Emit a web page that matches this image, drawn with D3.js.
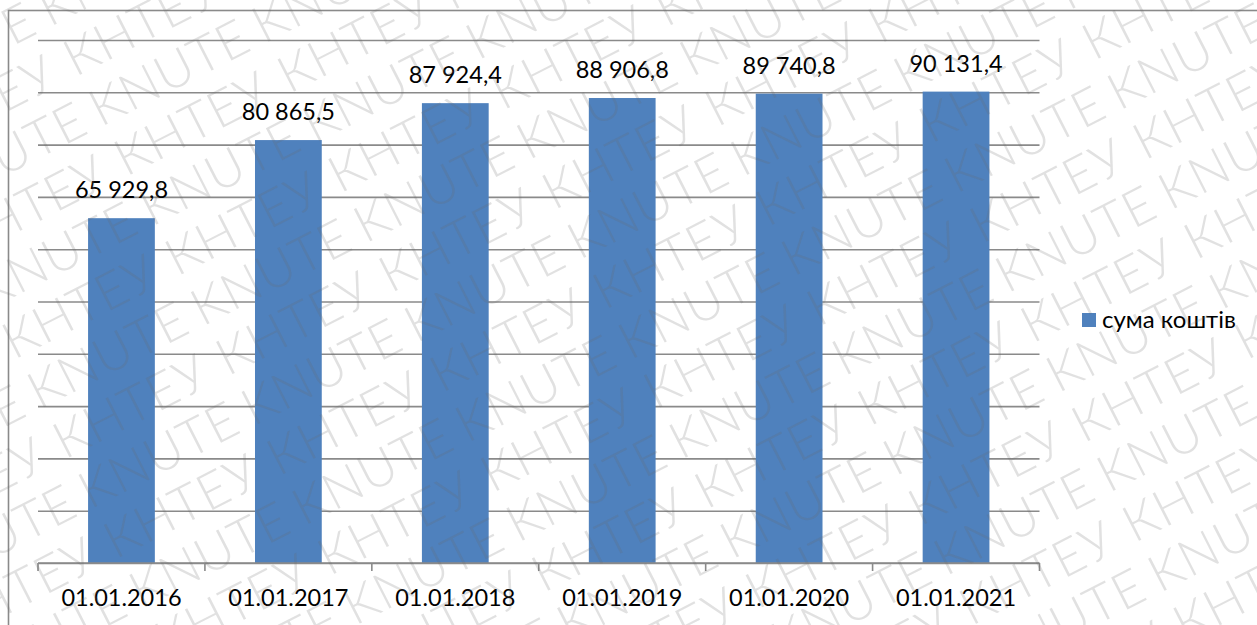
<!DOCTYPE html>
<html>
<head>
<meta charset="utf-8">
<script src="https://cdn.jsdelivr.net/npm/d3@7"></script>
<style>
  html, body { margin: 0; padding: 0; background: #fff; }
  svg { display: block; }
</style>
</head>
<body>
<svg id="chart" width="1257" height="625"></svg>
<script>
// Data: total funds at the start of each year
const categories = ["01.01.2016", "01.01.2017", "01.01.2018", "01.01.2019", "01.01.2020", "01.01.2021"];
const values = [65929.8, 80865.5, 87924.4, 88906.8, 89740.8, 90131.4];
const seriesName = "сума коштів";
const yDomain = [0, 100000];
const watermarkWords = ["KNUTE", "КНТЕУ"];

const W = 1257, H = 625;
const margin = { left: 38, right: 217.5, top: 40, bottom: 62 };
const innerRight = W - margin.right;
const innerBottom = H - margin.bottom;

const font = "Lato, 'Open Sans', 'Liberation Sans', sans-serif";
const fontSize = "23.5px";
const gridColor = "#8a8a8a";
const barColor = "#4f81bd";

const svg = d3.select("#chart");

// Outer chart frame (runs off the right and bottom edges)
svg.append("rect")
  .attr("x", 8.5).attr("y", 10.5)
  .attr("width", W + 20).attr("height", H + 20)
  .attr("fill", "#fff")
  .attr("stroke", gridColor).attr("stroke-width", 1.6);

const x = d3.scaleBand()
  .domain(categories)
  .range([margin.left, innerRight])
  .paddingInner(0.6)
  .paddingOuter(0.3);

const xEdges = d3.scaleBand()
  .domain(categories)
  .range([margin.left, innerRight])
  .padding(0);

const y = d3.scaleLinear()
  .domain(yDomain)
  .range([innerBottom, margin.top]);

// Horizontal gridlines
svg.append("g")
  .attr("transform", `translate(${margin.left},0)`)
  .call(d3.axisLeft(y).ticks(10).tickSize(-(innerRight - margin.left)).tickFormat(""))
  .call(g => g.select(".domain").remove())
  .call(g => g.selectAll(".tick line").attr("stroke", gridColor).attr("stroke-width", 1.6));

// Bars
svg.append("g")
  .selectAll("rect")
  .data(values)
  .join("rect")
  .attr("x", (d, i) => x(categories[i]))
  .attr("y", d => y(d))
  .attr("width", x.bandwidth())
  .attr("height", d => y(0) - y(d))
  .attr("fill", barColor);

// Category axis with tick marks on the category boundaries
const axisG = svg.append("g").attr("transform", `translate(0,${innerBottom})`);
axisG.append("line")
  .attr("x1", margin.left).attr("x2", innerRight)
  .attr("y1", 0).attr("y2", 0)
  .attr("stroke", gridColor).attr("stroke-width", 1.6);
const edges = categories.map(c => xEdges(c)).concat([xEdges(categories[categories.length - 1]) + xEdges.step()]);
axisG.selectAll("line.edge")
  .data(edges)
  .join("line")
  .attr("class", "edge")
  .attr("x1", d => d).attr("x2", d => d)
  .attr("y1", 0).attr("y2", 8)
  .attr("stroke", gridColor).attr("stroke-width", 1.6);
axisG.selectAll("text")
  .data(categories)
  .join("text")
  .attr("x", d => x(d) + x.bandwidth() / 2)
  .attr("y", 43)
  .attr("text-anchor", "middle")
  .attr("font-family", font)
  .attr("font-size", fontSize)
  .attr("fill", "#000")
  .text(d => d);

// Value labels
const ua = d3.formatLocale({ decimal: ",", thousands: " ", grouping: [3], currency: ["", ""] });
const fmt = ua.format(",.1f");
svg.append("g")
  .selectAll("text")
  .data(values)
  .join("text")
  .attr("x", (d, i) => x(categories[i]) + x.bandwidth() / 2)
  .attr("y", d => y(d) - 20)
  .attr("text-anchor", "middle")
  .attr("font-family", font)
  .attr("font-size", fontSize)
  .attr("fill", "#000")
  .text(d => fmt(d));

// Legend
const legend = svg.append("g").attr("transform", "translate(1082,313)");
legend.append("rect").attr("width", 14).attr("height", 14).attr("fill", barColor);
legend.append("text")
  .attr("x", 20).attr("y", 15)
  .attr("font-family", font)
  .attr("font-size", "24px")
  .attr("fill", "#000")
  .text(seriesName);

// Diagonal watermark: alternating rows of the two words, rotated -27°
const angle = -27 * Math.PI / 180;
const ca = Math.cos(angle), sa = Math.sin(angle);
const wm = svg.append("g")
  .attr("transform", "rotate(-27)")
  .attr("pointer-events", "none");
const rowGap = 56, period = 183, u0 = 764, v0 = 943;
const wordLen = 175, capH = 38;
for (let k = -25; k <= 25; k++) {
  const v = v0 + k * rowGap;
  const word = watermarkWords[((k % 2) + 2) % 2];
  for (let j = -12; j <= 12; j++) {
    const u = u0 + j * period;
    // keep only words whose rotated box touches the page
    const corners = [[u, v], [u + wordLen, v], [u, v - capH], [u + wordLen, v - capH]]
      .map(([a, b]) => [a * ca - b * sa, a * sa + b * ca]);
    const xs = corners.map(c => c[0]), ys = corners.map(c => c[1]);
    if (Math.max(...xs) < 0 || Math.min(...xs) > W || Math.max(...ys) < 0 || Math.min(...ys) > H) continue;
    wm.append("text")
      .attr("x", u)
      .attr("y", v)
      .attr("font-family", "Lato, 'Liberation Sans', sans-serif")
      .attr("font-weight", 300)
      .attr("font-size", "51px")
      .attr("letter-spacing", "1px")
      .attr("fill", "#6a6a6a")
      .attr("fill-opacity", 0.2)
      .text(word);
  }
}
</script>
</body>
</html>
